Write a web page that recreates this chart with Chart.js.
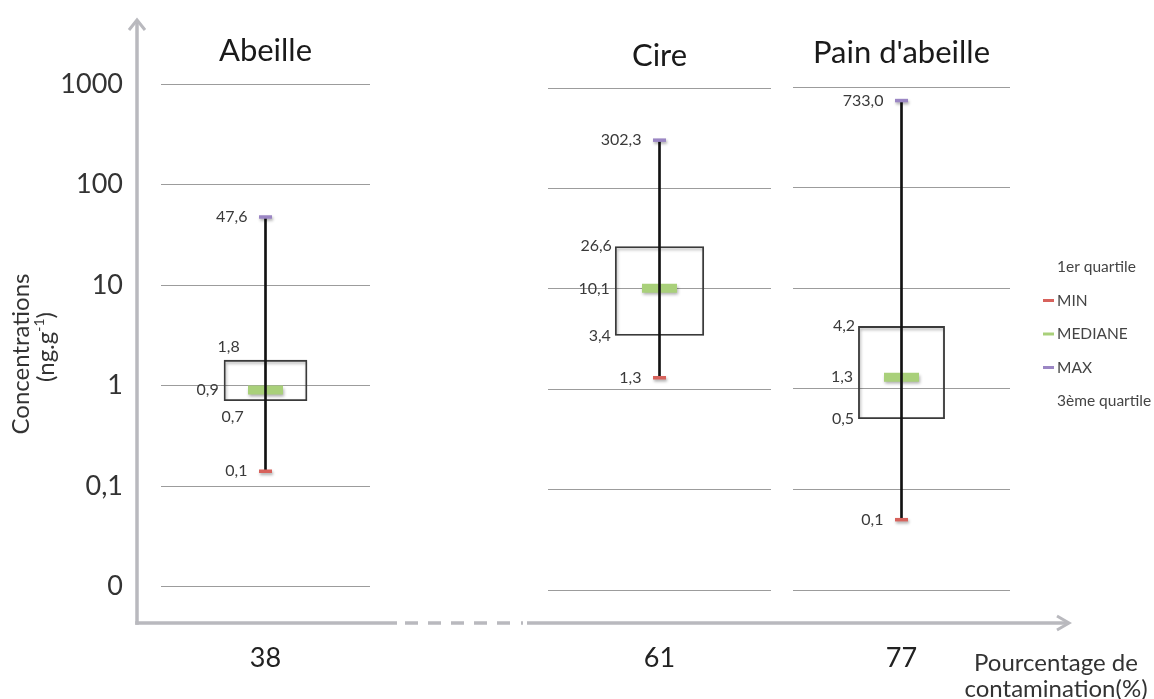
<!DOCTYPE html>
<html>
<head>
<meta charset="utf-8">
<script src="https://cdn.jsdelivr.net/npm/chart.js@4.4.1/dist/chart.umd.min.js"></script>
<style>
  html, body { margin: 0; padding: 0; background: #ffffff; }
  #wrap { position: relative; width: 1154px; height: 699px; overflow: hidden; }
  #wrap canvas { position: absolute; left: 0; top: 0; }
</style>
</head>
<body>
<div id="wrap">
  <canvas id="c0" width="1154" height="699"></canvas>
  <canvas id="c1" width="1154" height="699"></canvas>
  <canvas id="c2" width="1154" height="699"></canvas>
</div>
<script>
// ---------------- DATA ----------------
const categories = ['Abeille', 'Cire', "Pain d'abeille"];
const contamination = ['38', '61', '77'];
const minValues = [0.14, 1.3, 0.05];
const q1Values = [0.7, 3.4, 0.5];
const medianValues = [0.9, 10.1, 1.3];
const q3Values = [1.8, 26.6, 4.2];
const maxValues = [47.6, 302.3, 733.0];
const yTickValues = [0.01, 0.1, 1, 10, 100, 1000];
const yTickLabels = ['0', '0,1', '1', '10', '100', '1000'];
const legendLabels = ['1er quartile', 'MIN', 'MEDIANE', 'MAX', '3ème quartile'];
const yTitleLines = ['Concentrations', '(ng.g', '-1', ')'];
const xTitleLines = ['Pourcentage de', 'contamination(%)'];

// ---------------- STYLE ----------------
const FONT = 'Lato, "Open Sans", sans-serif';
const W = 1154, H = 699;
const panelAreas = [
  { left: 161, right: 370, top: 84, bottom: 586.5, titleBase: 61 },
  { left: 548, right: 771, top: 88, bottom: 590, titleBase: 66 },
  { left: 793, right: 1010, top: 87, bottom: 590, titleBase: 63 }
];
const labelNudges = [{ q3: [19, -13], q1: [24, 16] }, {}, {}];
const COLORS = {
  min: '#d7625c', median: '#a9d07a', max: '#9b86c4',
  grid: '#9c9c9c', axis: '#b9b9be', box: '#3a3a3a', whisker: '#121212',
  text: '#333333', legend: '#444444', label: '#3a3a3a', title: '#1a1a1a'
};
const X_AXIS_H = 100;
const X_LABEL_CENTER_Y = 658;
const X_FONT = 27;
const Y_FONT = 27;
const TITLE_FONT = 31;
const LABEL_FONT = 16;
const LEGEND_FONT = 15.5;
const AXIS_TITLE_FONT = 24;

Chart.defaults.font.family = FONT;

const shadowPlugin = {
  id: 'softShadow',
  beforeDatasetDraw(chart, args) {
    const ds = chart.data.datasets[args.index];
    if (ds.shadow) {
      const ctx = chart.ctx;
      ctx.save();
      ctx.shadowColor = 'rgba(0,0,0,0.32)';
      ctx.shadowBlur = 3;
      ctx.shadowOffsetX = 1;
      ctx.shadowOffsetY = 2;
    }
  },
  afterDatasetDraw(chart, args) {
    const ds = chart.data.datasets[args.index];
    if (ds.shadow) chart.ctx.restore();
  }
};

function fmt(v) {
  return (Math.round(v * 10) / 10).toFixed(1).replace('.', ',');
}

function makeLabelPlugin(i) {
  return {
    id: 'valueLabels' + i,
    afterDatasetsDraw(chart) {
      const ctx = chart.ctx;
      const y = chart.scales.y;
      const box = chart.getDatasetMeta(4).data[0];
      const cx = box.x;
      const boxLeft = box.x - box.width / 2;
      const nudge = labelNudges[i];
      const items = [
        { v: maxValues[i], x: cx - 18, key: 'max' },
        { v: minValues[i], x: cx - 18, key: 'min' },
        { v: medianValues[i], x: boxLeft - 5, key: 'median' },
        { v: q3Values[i], x: boxLeft - 3, key: 'q3' },
        { v: q1Values[i], x: boxLeft - 4, key: 'q1' }
      ];
      ctx.save();
      ctx.font = LABEL_FONT + 'px ' + FONT;
      ctx.fillStyle = COLORS.label;
      ctx.textAlign = 'right';
      ctx.textBaseline = 'middle';
      items.forEach(it => {
        const d = nudge[it.key] || [0, 0];
        ctx.fillText(fmt(it.v), it.x + d[0], y.getPixelForValue(it.v) + d[1]);
      });
      // panel title
      const ca = chart.chartArea;
      ctx.font = TITLE_FONT + 'px ' + FONT;
      ctx.fillStyle = COLORS.title;
      ctx.textAlign = 'center';
      ctx.textBaseline = 'alphabetic';
      ctx.fillText(categories[i], (ca.left + ca.right) / 2, panelAreas[i].titleBase);
      ctx.restore();
    }
  };
}

const decorPlugin = {
  id: 'decor',
  afterDraw(chart) {
    const ctx = chart.ctx;
    const ca = chart.chartArea;
    const ax = ca.left - 24;
    const ay = ca.bottom + 36.5;
    ctx.save();
    ctx.strokeStyle = COLORS.axis;
    ctx.lineCap = 'butt';
    ctx.lineJoin = 'miter';
    // y axis with arrow
    ctx.lineWidth = 3.5;
    ctx.beginPath(); ctx.moveTo(ax, ay + 1.75); ctx.lineTo(ax, 21); ctx.stroke();
    ctx.lineWidth = 3;
    ctx.beginPath(); ctx.moveTo(ax - 8, 30); ctx.lineTo(ax, 20); ctx.lineTo(ax + 8, 30); ctx.stroke();
    // x axis: solid, dashed break, solid, arrow
    ctx.lineWidth = 3.5;
    ctx.beginPath(); ctx.moveTo(ax - 1.75, ay); ctx.lineTo(397, ay); ctx.stroke();
    ctx.setLineDash([13, 10]);
    ctx.beginPath(); ctx.moveTo(405, ay); ctx.lineTo(515, ay); ctx.stroke();
    ctx.setLineDash([]);
    ctx.beginPath(); ctx.moveTo(521, ay); ctx.lineTo(523, ay); ctx.stroke();
    ctx.beginPath(); ctx.moveTo(527, ay); ctx.lineTo(1067, ay); ctx.stroke();
    ctx.lineWidth = 3;
    ctx.beginPath(); ctx.moveTo(1057, ay - 7); ctx.lineTo(1069, ay); ctx.lineTo(1057, ay + 7); ctx.stroke();

    // y title
    ctx.fillStyle = COLORS.text;
    ctx.textAlign = 'center';
    ctx.textBaseline = 'middle';
    ctx.save();
    ctx.translate(21, 354);
    ctx.rotate(-Math.PI / 2);
    ctx.font = AXIS_TITLE_FONT + 'px ' + FONT;
    ctx.fillText(yTitleLines[0], 0, 0);
    ctx.restore();
    ctx.save();
    ctx.translate(46, 347);
    ctx.rotate(-Math.PI / 2);
    const supFont = Math.round(AXIS_TITLE_FONT * 0.6);
    ctx.font = AXIS_TITLE_FONT + 'px ' + FONT;
    const p1 = ctx.measureText(yTitleLines[1]).width;
    const p3 = ctx.measureText(yTitleLines[3]).width;
    ctx.font = supFont + 'px ' + FONT;
    const p2 = ctx.measureText(yTitleLines[2]).width;
    const total = p1 + p2 + p3;
    const x0 = -total / 2;
    ctx.textAlign = 'left';
    ctx.font = AXIS_TITLE_FONT + 'px ' + FONT;
    ctx.fillText(yTitleLines[1], x0, 0);
    ctx.font = supFont + 'px ' + FONT;
    ctx.fillText(yTitleLines[2], x0 + p1, -7);
    ctx.font = AXIS_TITLE_FONT + 'px ' + FONT;
    ctx.fillText(yTitleLines[3], x0 + p1 + p2, 0);
    ctx.restore();

    // x title
    ctx.textAlign = 'center';
    ctx.font = AXIS_TITLE_FONT + 'px ' + FONT;
    ctx.fillStyle = COLORS.text;
    ctx.fillText(xTitleLines[0], 1056, 663);
    ctx.fillText(xTitleLines[1], 1056, 689);

    // legend
    const legendColors = [null, COLORS.min, COLORS.median, COLORS.max, null];
    ctx.font = LEGEND_FONT + 'px ' + FONT;
    ctx.textAlign = 'left';
    legendLabels.forEach((lab, k) => {
      const ly = 267 + k * 33.5;
      if (legendColors[k]) {
        ctx.strokeStyle = legendColors[k];
        ctx.lineWidth = 3;
        ctx.beginPath(); ctx.moveTo(1043, ly); ctx.lineTo(1054, ly); ctx.stroke();
      }
      ctx.fillStyle = COLORS.legend;
      ctx.fillText(lab, 1057, ly);
    });
    ctx.restore();
  }
};

function makeChart(i) {
  const a = panelAreas[i];
  const isFirst = i === 0;
  const yW = isFirst ? a.left : 0;
  const plugins = [shadowPlugin, makeLabelPlugin(i)];
  if (isFirst) plugins.push(decorPlugin);
  return new Chart(document.getElementById('c' + i), {
    type: 'bar',
    data: {
      labels: [contamination[i]],
      datasets: [
        { type: 'line', label: legendLabels[1], data: [minValues[i]], showLine: false,
          pointStyle: 'line', pointRadius: 6.5, pointBorderWidth: 3.5,
          borderColor: COLORS.min, pointBorderColor: COLORS.min, backgroundColor: COLORS.min,
          order: 1, shadow: true },
        { type: 'line', label: legendLabels[3], data: [maxValues[i]], showLine: false,
          pointStyle: 'line', pointRadius: 6.5, pointBorderWidth: 3.5,
          borderColor: COLORS.max, pointBorderColor: COLORS.max, backgroundColor: COLORS.max,
          order: 1, shadow: true },
        { type: 'bar', label: 'whisker', data: [[minValues[i], maxValues[i]]],
          barThickness: 2, backgroundColor: COLORS.whisker, grouped: false,
          borderSkipped: false, order: 3 },
        { type: 'line', label: legendLabels[2], data: [medianValues[i]], showLine: false,
          pointStyle: 'line', pointRadius: 17.5, pointBorderWidth: 9,
          borderColor: COLORS.median, pointBorderColor: COLORS.median, backgroundColor: COLORS.median,
          order: 4, shadow: true },
        { type: 'bar', label: 'box', data: [[q1Values[i], q3Values[i]]],
          barPercentage: 0.4, categoryPercentage: 1, grouped: false,
          backgroundColor: 'rgba(0,0,0,0)', borderColor: COLORS.box, borderWidth: 1.8,
          borderSkipped: false, order: 5, shadow: true }
      ]
    },
    options: {
      responsive: false,
      animation: false,
      devicePixelRatio: 1,
      events: [],
      layout: {
        padding: { left: a.left - yW, right: W - a.right, top: a.top, bottom: H - a.bottom - X_AXIS_H }
      },
      plugins: { legend: { display: false }, tooltip: { enabled: false }, title: { display: false } },
      scales: {
        x: {
          type: 'category',
          offset: true,
          grid: { display: false, drawTicks: false },
          border: { display: false },
          ticks: {
            font: { family: FONT, size: X_FONT }, color: '#222222',
            padding: X_LABEL_CENTER_Y - a.bottom - X_FONT * 1.2 / 2,
            maxRotation: 0, autoSkip: false
          },
          afterFit(s) { s.height = X_AXIS_H; }
        },
        y: {
          type: 'logarithmic',
          position: 'left',
          min: 0.01,
          max: 1000,
          grid: { color: COLORS.grid, lineWidth: 1, drawTicks: false },
          border: { display: false },
          ticks: {
            display: isFirst,
            font: { family: FONT, size: Y_FONT }, color: COLORS.text,
            padding: 38,
            callback: (v, idx) => yTickLabels[idx]
          },
          afterBuildTicks(s) { s.ticks = yTickValues.map(v => ({ value: v })); },
          afterFit(s) { s.width = yW; }
        }
      }
    },
    plugins
  });
}

[0, 1, 2].forEach(makeChart);
</script>
</body>
</html>
